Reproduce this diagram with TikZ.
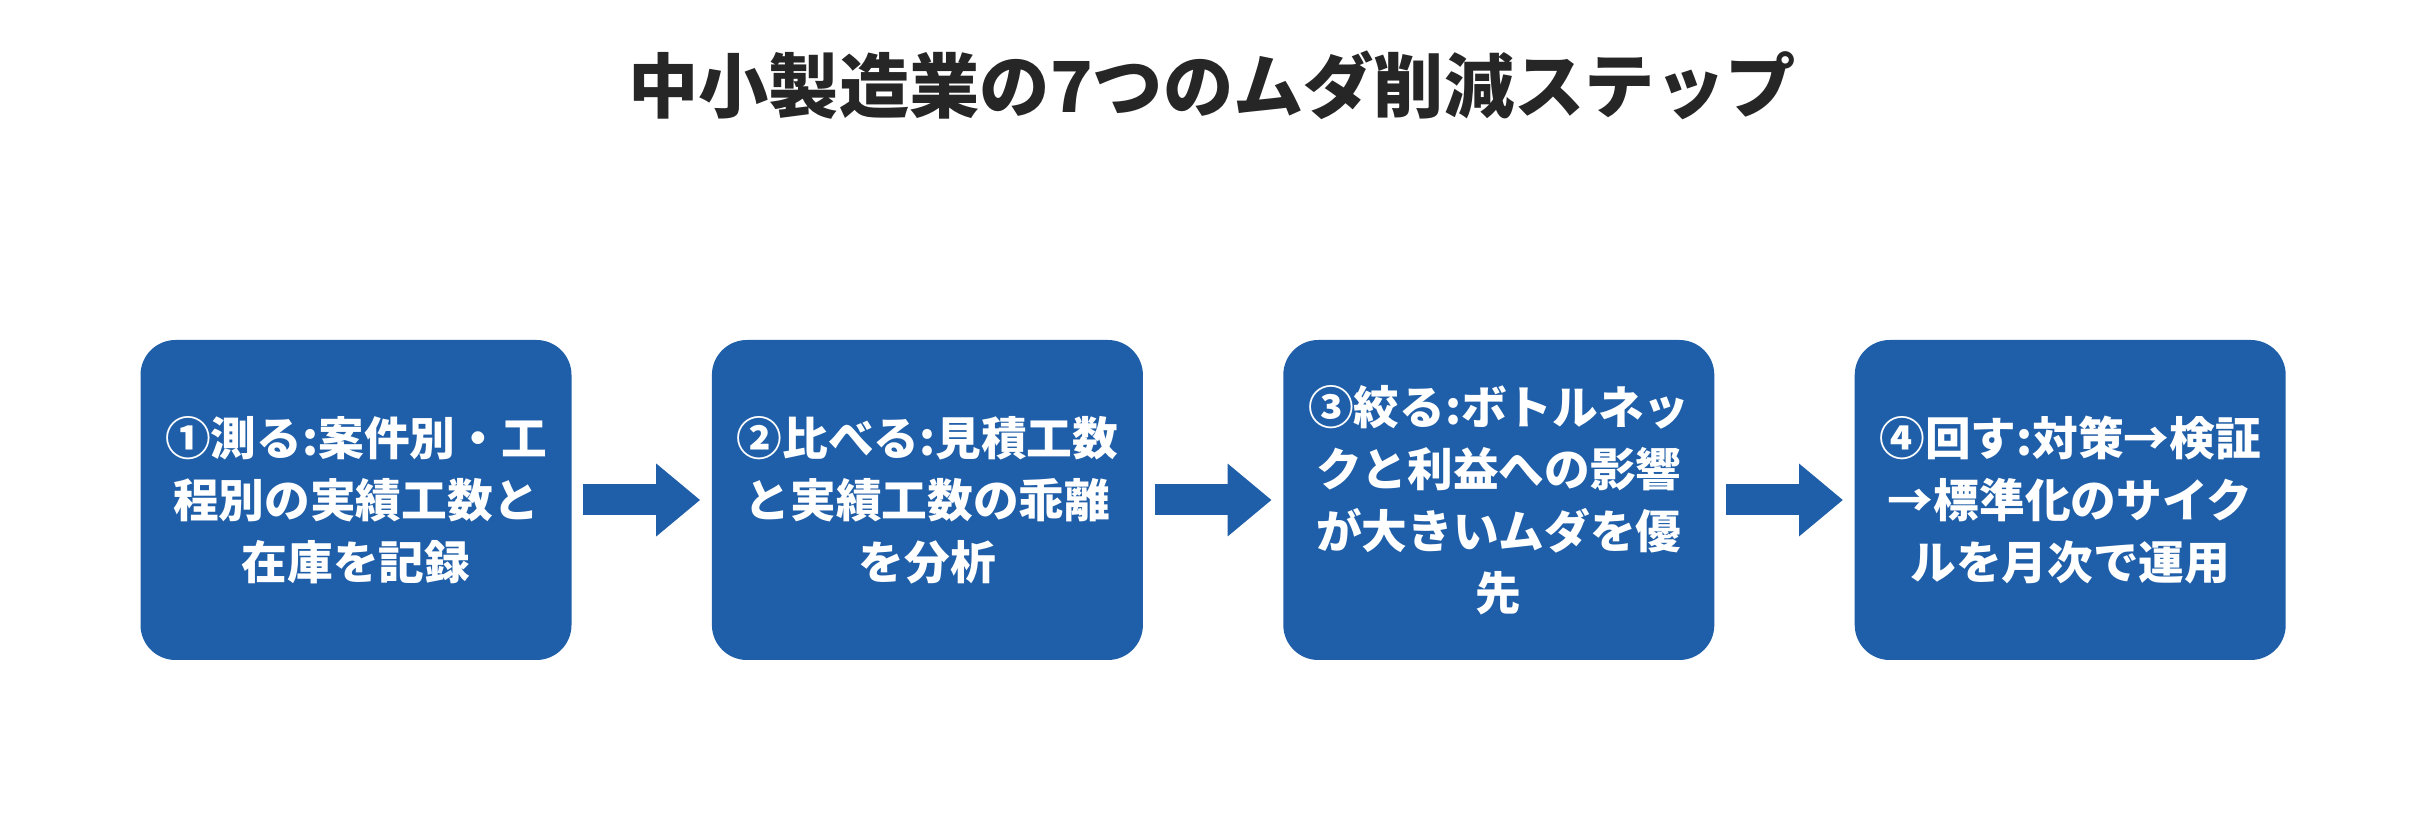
\documentclass[tikz,border=0pt]{standalone}
\usepackage{fontspec}
\setmainfont{Noto Sans CJK JP}
\usetikzlibrary{arrows.meta}
\usetikzlibrary{positioning}
\definecolor{stepblue}{HTML}{1F5EA8}
\definecolor{titlegray}{HTML}{262626}
\tikzset{
    stepbox/.style={
        fill=stepblue,
        rounded corners=0.35cm,
        minimum width=4.31cm,
        minimum height=3.2cm,
        text width=4.0cm,
        align=center,
        text=white,
        font=\fontsize{13}{17.6}\selectfont\bfseries
    },
    flow/.style={
        draw=stepblue,
        line width=3.1mm,
        -{Triangle[length=4.4mm, width=7mm]},
        shorten <=1.1mm,
        shorten >=1.1mm
    }
}
\begin{document}
\begin{tikzpicture}
    \useasboundingbox (0,0) rectangle (24.24,8.4);
    % Title
    \node[text=titlegray, font=\fontsize{20}{24}\selectfont\bfseries] (title) at (12.12,7.55) {中小製造業の7つのムダ削減ステップ};
    % Steps
    \node[stepbox] (s1) at (3.56,3.4) {①測る:案件別・工\\程別の実績工数と\\在庫を記録};
    \node[stepbox, right=1.39cm of s1] (s2) {②比べる:見積工数\\と実績工数の乖離\\を分析};
    \node[stepbox, right=1.39cm of s2] (s3) {③絞る:ボトルネッ\\クと利益への影響\\が大きいムダを優\\先};
    \node[stepbox, right=1.39cm of s3] (s4) {④回す:対策→検証\\→標準化のサイク\\ルを月次で運用};
    % Arrows
    \draw[flow] (s1) -- (s2);
    \draw[flow] (s2) -- (s3);
    \draw[flow] (s3) -- (s4);
\end{tikzpicture}
\end{document}
